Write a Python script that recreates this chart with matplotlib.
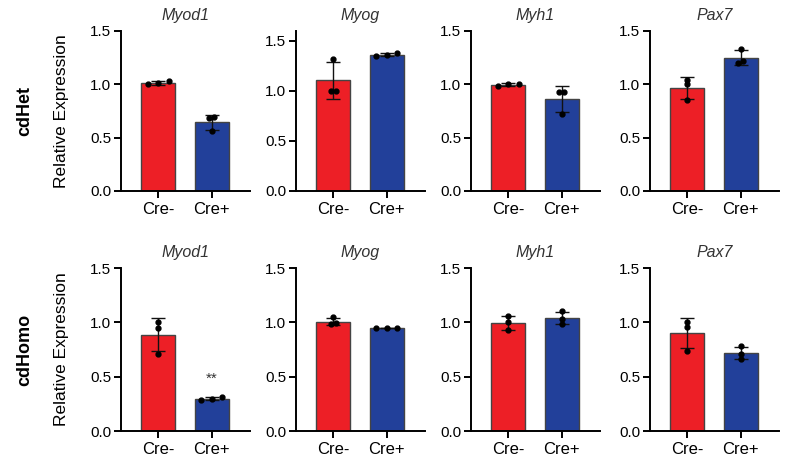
import numpy as np
import matplotlib
matplotlib.use("Agg")
from matplotlib import pyplot as plt

plt.rcParams['font.family'] = ['Liberation Sans', 'DejaVu Sans']

# Datos
genes = ["Myod1", "Myog", "Myh1", "Pax7"]
groups = ["Cre-", "Cre+"]
rows = ["cdHet", "cdHomo"]

# puntos individuales (3 replicas) por gen, fila cdHet
het_cre_neg = {"Myod1": [1.00, 1.03, 1.01], "Myog": [1.32, 1.00, 1.00],
               "Myh1": [0.98, 1.005, 1.005], "Pax7": [1.045, 1.00, 0.85]}
het_cre_pos = {"Myod1": [0.68, 0.69, 0.56], "Myog": [1.35, 1.38, 1.36],
               "Myh1": [0.93, 0.93, 0.72], "Pax7": [1.33, 1.20, 1.22]}
# fila cdHomo
homo_cre_neg = {"Myod1": [1.00, 0.95, 0.71], "Myog": [1.045, 0.985, 0.99],
                "Myh1": [1.055, 1.00, 0.93], "Pax7": [1.00, 0.955, 0.74]}
homo_cre_pos = {"Myod1": [0.285, 0.31, 0.293], "Myog": [0.947, 0.947, 0.947],
                "Myh1": [1.10, 1.03, 0.985], "Pax7": [0.78, 0.71, 0.665]}

ymax = {("cdHet", "Myog"): 1.6}
signif = {("cdHomo", "Myod1"): "**"}

data = {"cdHet": (het_cre_neg, het_cre_pos), "cdHomo": (homo_cre_neg, homo_cre_pos)}

colors = ['#ED1F26', '#22409A']


def swarm(vals, tol=0.04, step=0.2):
    # separa horizontalmente los puntos casi iguales
    vals = np.asarray(vals)
    order = np.argsort(vals)
    offs = np.zeros(len(vals))
    clusters = [[order[0]]]
    for k in order[1:]:
        if vals[k] - vals[clusters[-1][-1]] < tol:
            clusters[-1].append(k)
        else:
            clusters.append([k])
    for cl in clusters:
        n = len(cl)
        sp = step if n > 2 else step / 2
        for j, k in enumerate(cl):
            offs[k] = (j - (n - 1) / 2) * sp
    return offs


W, H = 795, 461
fig = plt.figure(figsize=(W / 100, H / 100), dpi=100)

lefts = [121, 296, 471, 650]
width = 129
row_box = {"cdHet": (191, 31), "cdHomo": (431, 268)}

for r in rows:
    y0, y1 = row_box[r]
    neg, pos = data[r]
    for c, g in enumerate(genes):
        ax = fig.add_axes([lefts[c] / W, (H - y0) / H, width / W, (y0 - y1) / H])
        for i, pts in enumerate([neg[g], pos[g]]):
            pts = np.array(pts)
            m = pts.mean()
            sd = pts.std(ddof=1)
            ax.bar(i, m, width=0.64, color=colors[i], edgecolor='#444444', linewidth=1, zorder=2)
            ax.errorbar(i, m, yerr=sd, color='#111111', elinewidth=1, capsize=5, capthick=1, zorder=3)
            ax.plot(i + swarm(pts), pts, 'o', color='black', ms=3.5, zorder=4)
        if (r, g) in signif:
            ax.text(1, 0.42, signif[(r, g)], ha='center', va='bottom', fontsize=11, color='#333333')
        ax.set_xlim(-0.7, 1.72)
        ax.set_ylim(0, ymax.get((r, g), 1.5))
        ax.set_yticks([0, 0.5, 1.0, 1.5])
        ax.set_yticklabels(["0.0", "0.5", "1.0", "1.5"])
        ax.set_xticks([0, 1])
        ax.set_xticklabels(groups)
        ax.spines['top'].set_visible(False)
        ax.spines['right'].set_visible(False)
        for s in ['left', 'bottom']:
            ax.spines[s].set_linewidth(1.4)
        ax.tick_params(axis='y', labelsize=11, width=1.4, length=5, pad=2, colors='black')
        ax.tick_params(axis='x', labelsize=12, width=1.4, length=5, pad=3)
        ax.set_title(g, fontsize=11.5, style='italic', color='#333333', pad=8)
        if c == 0:
            ax.set_ylabel("Relative Expression", fontsize=12.5)
            ax.yaxis.set_label_coords(-0.40, 0.5)
    fig.text(25 / W, 1 - ((y0 + y1) / 2) / H, r, rotation=90, fontsize=13,
             fontweight='bold', ha='center', va='center')

fig.savefig("out.png", dpi=100)
